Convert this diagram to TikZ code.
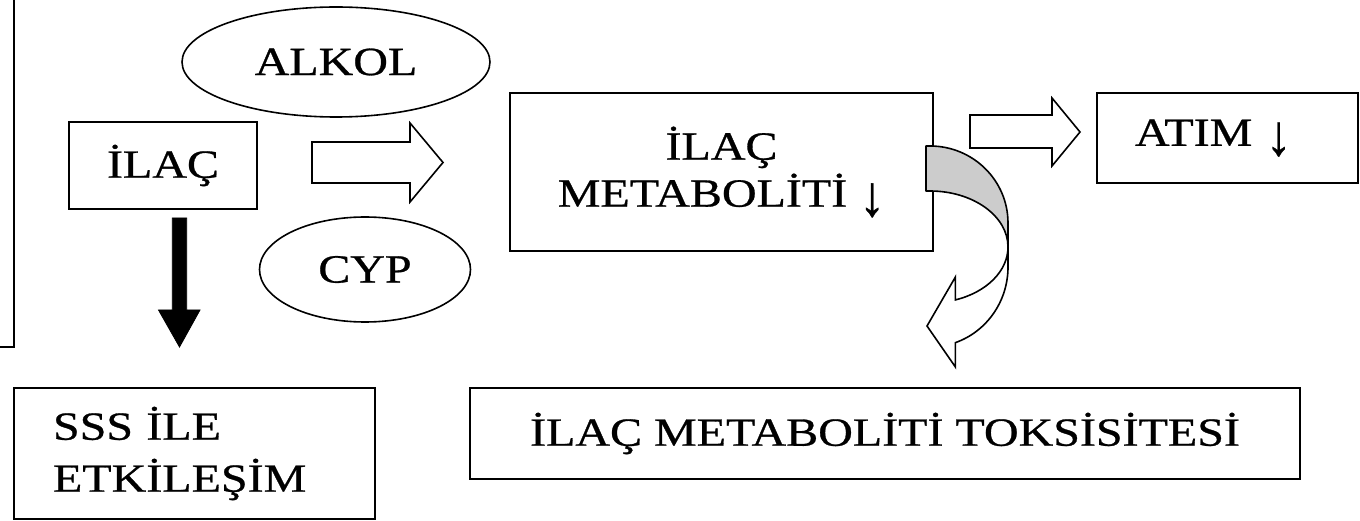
\documentclass[tikz,border=0pt]{standalone}
\usepackage{graphicx}
\usepackage{fontspec}
\setmainfont{Liberation Serif}[FakeStretch=1.2, FakeBold=0.7]
\usetikzlibrary{shapes.geometric}
\newcommand{\dnarrow}{\raisebox{-9pt}{\resizebox*{26pt}{34pt}{↓}}}
\begin{document}
\begin{tikzpicture}[x=1pt,y=1pt,
  every node/.style={font=\fontsize{40}{47}\selectfont, text=black},
  lw/.style={line width=1.6pt},
  boxnode/.style={draw, lw, rectangle, inner sep=0pt},
  ovalnode/.style={draw, lw, ellipse, inner sep=0pt},
  hollowarrow/.style={draw, lw, fill=white, line join=miter},
  solidarrow/.style={fill=black, draw=black, line width=0.8pt, line join=miter},
  ribbonback/.style={draw, lw, fill=gray!40, line join=round},
  ribbonfront/.style={draw, lw, fill=white, line join=miter}]
\useasboundingbox (0,0) rectangle (1360,-521);

% cut-off box on the left edge
\draw[lw] (0,-347) -- (14,-347) -- (14,0);

% nodes
\node[ovalnode, minimum width=308pt, minimum height=110pt] (alkol) at (336,-62) {ALKOL};
\node[ovalnode, minimum width=211pt, minimum height=105pt] (cyp) at (365,-269.5) {CYP};
\node[boxnode, minimum width=188pt, minimum height=87pt] (ilac) at (163,-165.5) {İLAÇ};
\node[boxnode, minimum width=423pt, minimum height=158pt, align=center] (metab) at (721.5,-172) {İLAÇ\\METABOLİTİ \dnarrow};
\node[boxnode, minimum height=90pt, text width=185pt, inner xsep=38pt, align=left] (atim) at (1227.5,-138) {ATIM \dnarrow};
\node[boxnode, minimum height=131pt, text width=283pt, inner xsep=39pt, align=left,
      font=\fontsize{40}{52}\selectfont] (sss) at (194.5,-453.5) {SSS İLE\\ETKİLEŞİM};
\node[boxnode, minimum width=830pt, minimum height=91pt] (toks) at (885,-433.5) {İLAÇ METABOLİTİ TOKSİSİTESİ};

% hollow block arrow: ilac -> metab
\draw[hollowarrow] (312,-142) -- (410,-142) -- (410,-123) -- (443,-162.5)
  -- (410,-202) -- (410,-183) -- (312,-183) -- cycle;

% hollow block arrow: metab -> atim
\draw[hollowarrow] (970,-115) -- (1052,-115) -- (1052,-98) -- (1080,-132)
  -- (1052,-166) -- (1052,-148) -- (970,-148) -- cycle;

% solid down arrow: ilac -> sss
\fill[solidarrow] (172.3,-218) -- (186.7,-218) -- (186.7,-310) -- (200,-310)
  -- (179.5,-347) -- (158.5,-310) -- (172.3,-310) -- cycle;

% curved ribbon arrow: metab -> toks
\draw[ribbonback] (926,-146) -- (930,-146)
  arc[start angle=90, end angle=0, x radius=78pt, y radius=77pt]
  -- (1008,-247)
  arc[start angle=0, end angle=90, x radius=78pt, y radius=56pt]
  -- (926,-191) -- cycle;
\draw[ribbonfront] (1008,-247) -- (1008,-267)
  arc[start angle=0, end angle=-71, x radius=78pt, y radius=80pt]
  -- (955.4,-367) -- (927,-326) -- (955.4,-277) -- (955.4,-299.9)
  arc[start angle=-71, end angle=0, x radius=78pt, y radius=56pt]
  -- cycle;
\end{tikzpicture}
\end{document}
